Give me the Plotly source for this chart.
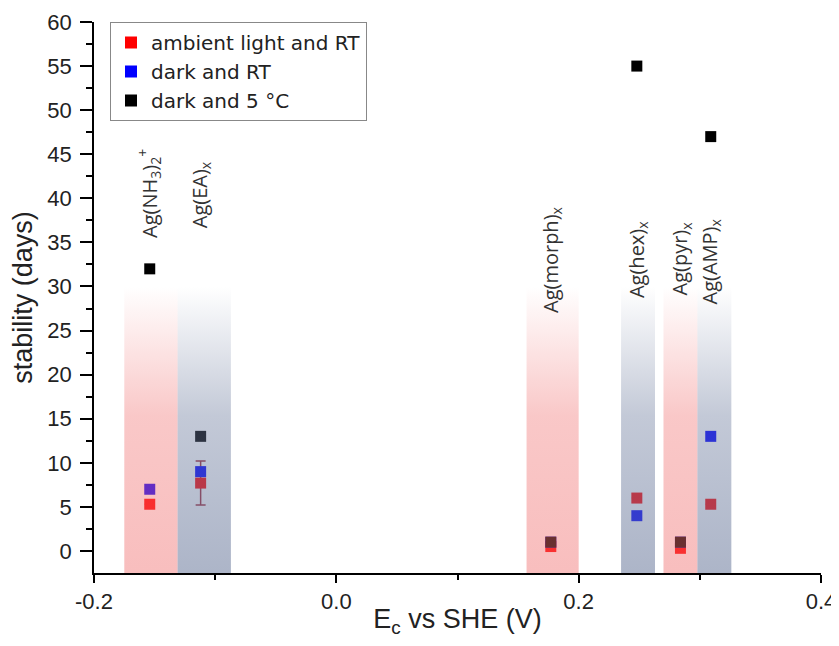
import plotly.graph_objects as go
import math

# ---- data ----
complexes = ["Ag(NH<sub>3</sub>)<sub>2</sub><sup>+</sup>", "Ag(EA)<sub>x</sub>", "Ag(morph)<sub>x</sub>",
             "Ag(hex)<sub>x</sub>", "Ag(pyr)<sub>x</sub>", "Ag(AMP)<sub>x</sub>"]
E_c = [-0.154, -0.112, 0.177, 0.248, 0.284, 0.309]
ambient_RT = [5.3, 7.7, 0.5, 6.0, 0.3, 5.3]
ambient_RT_err = [math.nan, 2.5, math.nan, math.nan, math.nan, math.nan]
dark_RT = [7.0, 9.0, 1.0, 4.0, 1.0, 13.0]
dark_5C = [32.0, 13.0, 1.0, 55.0, 1.0, 47.0]

band_left = [-0.175, -0.131, 0.157, 0.235, 0.270, 0.298]
band_right = [-0.131, -0.087, 0.200, 0.263, 0.298, 0.326]
band_kind = ["red", "blue", "red", "blue", "red", "blue"]
band_top = 30.0
label_bottom = [35.3, 36.4, 26.8, 28.5, 28.8, 27.7]

y_min, y_max = -2.5, 60

fig = go.Figure()

fig.add_trace(go.Scatter(
    x=E_c, y=ambient_RT, mode="markers", name="ambient light and RT",
    marker=dict(symbol="square", size=11, color="#ff0000"),
    error_y=dict(type="data", array=ambient_RT_err, color="#a02838", thickness=1.5, width=5),
))
fig.add_trace(go.Scatter(
    x=E_c, y=dark_RT, mode="markers", name="dark and RT",
    marker=dict(symbol="square", size=11, color="#0000ff"),
))
fig.add_trace(go.Scatter(
    x=E_c, y=dark_5C, mode="markers", name="dark and 5 °C",
    marker=dict(symbol="square", size=11, color="#000000"),
))

colors = {
    "red": ("rgba(240,110,110,0.45)", "rgba(240,110,110,0.38)", "rgba(240,110,110,0)"),
    "blue": ("rgba(105,120,155,0.55)", "rgba(105,120,155,0.40)", "rgba(105,120,155,0)"),
}
for l, r, k in zip(band_left, band_right, band_kind):
    c0, c1, c2 = colors[k]
    fig.add_trace(go.Scatter(
        x=[l, r, r, l, l], y=[y_min, y_min, band_top, band_top, y_min],
        mode="lines", line=dict(width=0), fill="toself",
        fillgradient=dict(type="vertical", colorscale=[[0, c0], [0.55, c1], [1, c2]]),
        showlegend=False, hoverinfo="skip",
    ))

for name, x, yb in zip(complexes, E_c, label_bottom):
    fig.add_annotation(x=x, y=yb, text=name, textangle=-90, showarrow=False,
                       xanchor="center", yanchor="bottom",
                       font=dict(family="Open Sans", size=20, color="#333333"))

tick_font = dict(family="Liberation Sans", size=22, color="#222222")
title_font = dict(family="Liberation Sans", size=27, color="#222222")

# the page body adds an 8px margin, so the figure is sized to fit the 839x646 window
fig.update_layout(
    width=831, height=630,
    margin=dict(l=86, r=18, t=14, b=65),
    plot_bgcolor="white", paper_bgcolor="white",
    font=dict(family="Liberation Sans", size=19, color="#222222"),
    legend=dict(x=0.022, y=1.0, xanchor="left", yanchor="top",
                bordercolor="#888888", borderwidth=1, bgcolor="white",
                font=dict(family="DejaVu Sans", size=20, color="#222222"),
                tracegroupgap=0, itemsizing="constant"),
    xaxis=dict(range=[-0.2, 0.4], tickvals=[-0.2, 0.0, 0.2, 0.4], ticktext=["-0.2", "0.0", "0.2", "0.4"],
               automargin=False, tickfont=tick_font,
               showgrid=False, zeroline=False, showline=True, linecolor="black", linewidth=1.5,
               ticks="outside", ticklen=8, tickwidth=1.5, tickcolor="black",
               minor=dict(dtick=0.1, ticks="outside", ticklen=5, tickwidth=1.5, tickcolor="black"),
               title=dict(text="E<sub>c</sub> vs SHE (V)", font=title_font, standoff=10)),
    yaxis=dict(range=[y_min, y_max], tickvals=list(range(0, 61, 5)),
               automargin=False, tickfont=tick_font, ticklabelstandoff=4,
               showgrid=False, zeroline=False, showline=True, linecolor="black", linewidth=1.5,
               ticks="outside", ticklen=12, tickwidth=1.5, tickcolor="black",
               minor=dict(tickvals=[v + 2.5 for v in range(0, 60, 5)], ticks="outside", ticklen=6, tickwidth=1.5, tickcolor="black"),
               title=dict(text="stability (days)", font=title_font, standoff=12)),
)

fig.write_html("out.html")
